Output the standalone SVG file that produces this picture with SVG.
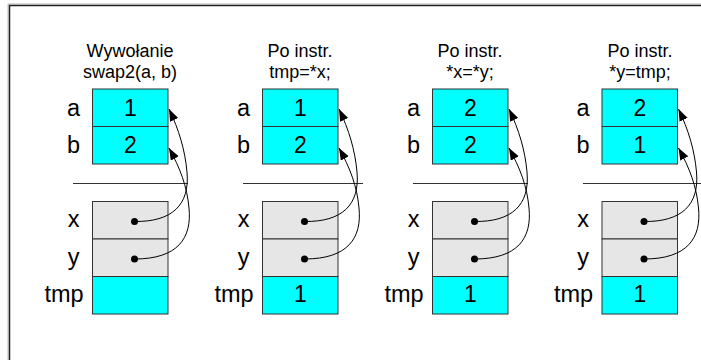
<svg xmlns="http://www.w3.org/2000/svg" width="701" height="360" viewBox="0 0 701 360">
<style>
text{font-family:"Liberation Sans",Arial,sans-serif;fill:#000}
.t{font-size:18px;text-anchor:middle}
.l{font-size:23.5px;text-anchor:middle}
.v{font-size:23px;text-anchor:middle}
.c{fill:#00ffff;stroke:#333;stroke-width:1}
.g{fill:#e6e6e6;stroke:#333;stroke-width:1}
.sep{stroke:#333;stroke-width:1}
.p{fill:none;stroke:#000;stroke-width:1}
</style>
<defs>
<marker id="ah" markerUnits="userSpaceOnUse" markerWidth="14" markerHeight="10" refX="12" refY="4.5" orient="auto">
<path d="M0,0 L12,4.5 L0,9 z" fill="#000"/>
</marker>
</defs>
<rect width="701" height="360" fill="#fff"/>
<path d="M8,360 V4 H701" fill="none" stroke="#bbb" stroke-width="1"/>
<path d="M9.5,360 V5.5 H701" fill="none" stroke="#222" stroke-width="1.5"/>

<g id="col1">
<text class="t" x="130" y="56.7">Wywołanie</text>
<text class="t" x="130" y="77.7">swap2(a, b)</text>
<g id="c1a"><rect class="c" x="92.5" y="89" width="75.5" height="37.5"/><text class="l" x="73.5" y="115.5">a</text><text class="v" x="130.3" y="115.5">1</text></g>
<g id="c1b"><rect class="c" x="92.5" y="126.5" width="75.5" height="37.5"/><text class="l" x="73.5" y="153">b</text><text class="v" x="130.3" y="153">2</text></g>
<line class="sep" x1="73" y1="183.5" x2="188" y2="183.5"/>
<g id="c1x"><rect class="g" x="92.5" y="201.5" width="75.5" height="37.5"/><text class="l" x="73.5" y="227">x</text><circle cx="134.5" cy="221.5" r="3.5"/></g>
<g id="c1y"><rect class="g" x="92.5" y="239" width="75.5" height="37.5"/><text class="l" x="73.5" y="264.5">y</text><circle cx="134.5" cy="259" r="3.5"/></g>
<g id="c1tmp"><rect class="c" x="92.5" y="276.5" width="75.5" height="37.5"/><text class="l" x="64" y="302">tmp</text></g>
</g>

<g id="col2">
<text class="t" x="300" y="56.7">Po instr.</text>
<text class="t" x="300" y="77.7">tmp=*x;</text>
<g id="c2a"><rect class="c" x="262.5" y="89" width="75.5" height="37.5"/><text class="l" x="243.5" y="115.5">a</text><text class="v" x="300.3" y="115.5">1</text></g>
<g id="c2b"><rect class="c" x="262.5" y="126.5" width="75.5" height="37.5"/><text class="l" x="243.5" y="153">b</text><text class="v" x="300.3" y="153">2</text></g>
<line class="sep" x1="243" y1="183.5" x2="363" y2="183.5"/>
<g id="c2x"><rect class="g" x="262.5" y="201.5" width="75.5" height="37.5"/><text class="l" x="243.5" y="227">x</text><circle cx="304.5" cy="221.5" r="3.5"/></g>
<g id="c2y"><rect class="g" x="262.5" y="239" width="75.5" height="37.5"/><text class="l" x="243.5" y="264.5">y</text><circle cx="304.5" cy="259" r="3.5"/></g>
<g id="c2tmp"><rect class="c" x="262.5" y="276.5" width="75.5" height="37.5"/><text class="l" x="234" y="302">tmp</text><text class="v" x="300.3" y="302">1</text></g>
</g>

<g id="col3">
<text class="t" x="470" y="56.7">Po instr.</text>
<text class="t" x="470" y="77.7">*x=*y;</text>
<g id="c3a"><rect class="c" x="432.5" y="89" width="75.5" height="37.5"/><text class="l" x="413.5" y="115.5">a</text><text class="v" x="470.3" y="115.5">2</text></g>
<g id="c3b"><rect class="c" x="432.5" y="126.5" width="75.5" height="37.5"/><text class="l" x="413.5" y="153">b</text><text class="v" x="470.3" y="153">2</text></g>
<line class="sep" x1="413" y1="183.5" x2="528" y2="183.5"/>
<g id="c3x"><rect class="g" x="432.5" y="201.5" width="75.5" height="37.5"/><text class="l" x="413.5" y="227">x</text><circle cx="474.5" cy="221.5" r="3.5"/></g>
<g id="c3y"><rect class="g" x="432.5" y="239" width="75.5" height="37.5"/><text class="l" x="413.5" y="264.5">y</text><circle cx="474.5" cy="259" r="3.5"/></g>
<g id="c3tmp"><rect class="c" x="432.5" y="276.5" width="75.5" height="37.5"/><text class="l" x="404" y="302">tmp</text><text class="v" x="470.3" y="302">1</text></g>
</g>

<g id="col4">
<text class="t" x="640" y="56.7">Po instr.</text>
<text class="t" x="640" y="77.7">*y=tmp;</text>
<g id="c4a"><rect class="c" x="602" y="89" width="75.5" height="37.5"/><text class="l" x="583" y="115.5">a</text><text class="v" x="639.8" y="115.5">2</text></g>
<g id="c4b"><rect class="c" x="602" y="126.5" width="75.5" height="37.5"/><text class="l" x="583" y="153">b</text><text class="v" x="639.8" y="153">1</text></g>
<line class="sep" x1="583" y1="183.5" x2="701" y2="183.5"/>
<g id="c4x"><rect class="g" x="602" y="201.5" width="75.5" height="37.5"/><text class="l" x="583" y="227">x</text><circle cx="644" cy="221.5" r="3.5"/></g>
<g id="c4y"><rect class="g" x="602" y="239" width="75.5" height="37.5"/><text class="l" x="583" y="264.5">y</text><circle cx="644" cy="259" r="3.5"/></g>
<g id="c4tmp"><rect class="c" x="602" y="276.5" width="75.5" height="37.5"/><text class="l" x="573.5" y="302">tmp</text><text class="v" x="639.8" y="302">1</text></g>
</g>

<g id="connectors">
<g>
<path class="p" marker-end="url(#ah)" d="M134.5,221.5 C172,222 190,205 187,172 C185,150 179,130 169,109"/>
<path class="p" marker-end="url(#ah)" d="M134.5,259 C178,259 192,238 189,208 C187,186 180,168 169,148"/>
</g>
<g transform="translate(170,0)">
<path class="p" marker-end="url(#ah)" d="M134.5,221.5 C172,222 190,205 187,172 C185,150 179,130 169,109"/>
<path class="p" marker-end="url(#ah)" d="M134.5,259 C178,259 192,238 189,208 C187,186 180,168 169,148"/>
</g>
<g transform="translate(340,0)">
<path class="p" marker-end="url(#ah)" d="M134.5,221.5 C172,222 190,205 187,172 C185,150 179,130 169,109"/>
<path class="p" marker-end="url(#ah)" d="M134.5,259 C178,259 192,238 189,208 C187,186 180,168 169,148"/>
</g>
<g transform="translate(509.5,0)">
<path class="p" marker-end="url(#ah)" d="M134.5,221.5 C172,222 190,205 187,172 C185,150 179,130 169,109"/>
<path class="p" marker-end="url(#ah)" d="M134.5,259 C178,259 192,238 189,208 C187,186 180,168 169,148"/>
</g>
</g>
</svg>
